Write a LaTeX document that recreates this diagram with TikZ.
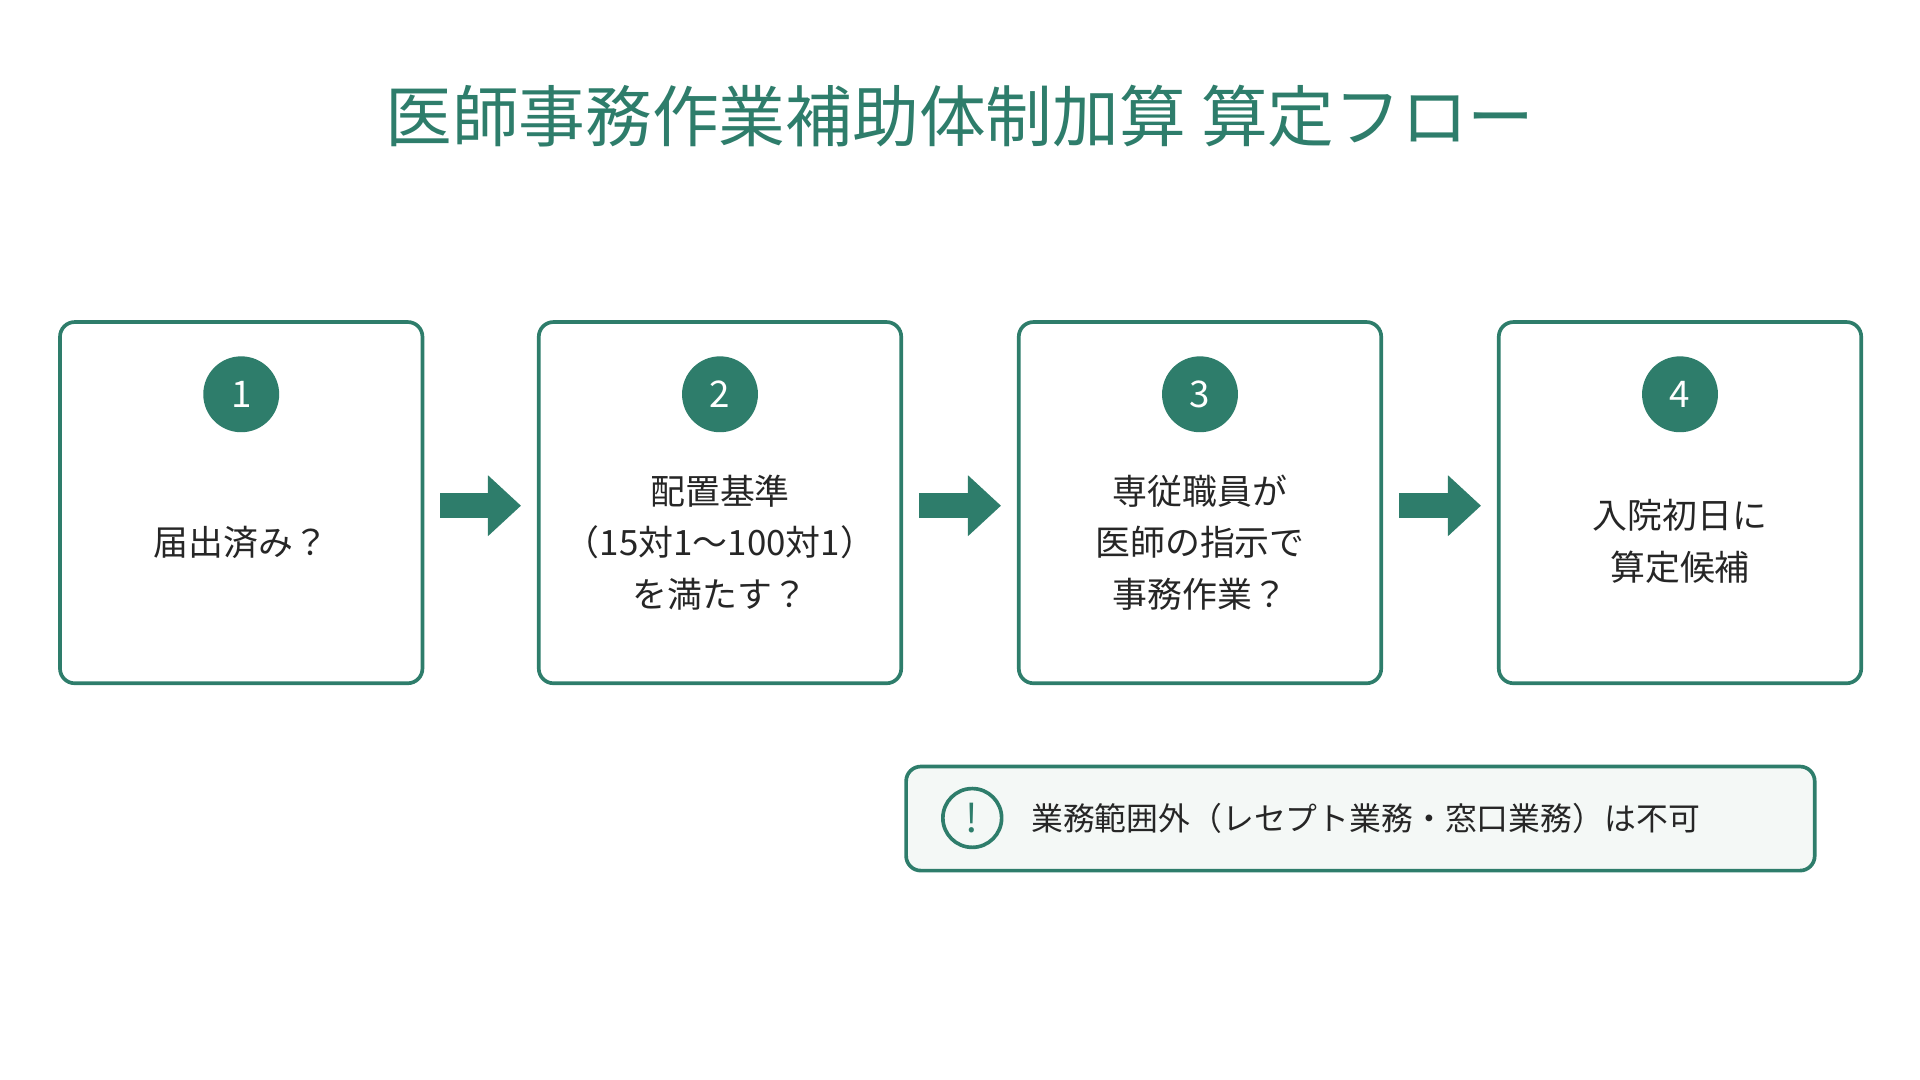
\documentclass[tikz,border=0pt]{standalone}
\usepackage{fontspec}
\setmainfont{Noto Sans CJK JP}
\usetikzlibrary{arrows.meta}
\definecolor{teal1}{HTML}{2E7D6B}
\definecolor{notebg}{HTML}{F4F8F6}
\begin{document}
\begin{tikzpicture}[x=1pt,y=-1pt,
  box/.style={draw=teal1,line width=3pt,rounded corners=12pt,minimum width=296pt,minimum height=295pt,fill=white},
  num/.style={circle,fill=teal1,minimum size=62pt,inner sep=0pt,text=white,font=\fontsize{30}{30}\selectfont},
  lbl/.style={align=center,font=\fontsize{28.5}{42}\selectfont,text=black!85},
  flow/.style={draw=teal1,line width=20pt,-{Triangle[width=48pt,length=27pt]},shorten <=13pt,shorten >=13pt}]
\useasboundingbox (0,0) rectangle (1568,882);
\node[text=teal1,font=\fontsize{54.5}{54}\selectfont] (title) at (784,95) {医師事務作業補助体制加算 算定フロー};
\foreach \i/\x in {1/197,2/588,3/980,4/1372}{
  \node[box] (b\i) at (\x,410.5) {};
  \node[num] (n\i) at (\x,322) {\i};
}
\node[lbl] (t1) at (197,443) {届出済み？};
\node[lbl] (t2) at (588,443) {配置基準\\（15対1～100対1）\\を満たす？};
\node[lbl] (t3) at (980,443) {専従職員が\\医師の指示で\\事務作業？};
\node[lbl] (t4) at (1372,442) {入院初日に\\算定候補};
\draw[flow] ([yshift=-2.5pt]b1.east) -- ([yshift=-2.5pt]b2.west);
\draw[flow] ([yshift=-2.5pt]b2.east) -- ([yshift=-2.5pt]b3.west);
\draw[flow] ([yshift=-2.5pt]b3.east) -- ([yshift=-2.5pt]b4.west);
\node[draw=teal1,line width=3pt,rounded corners=12pt,fill=notebg,minimum width=742pt,minimum height=85pt] (note) at (1111,668.5) {};
\node[circle,draw=teal1,line width=3pt,minimum size=48pt,inner sep=0pt,text=teal1,font=\fontsize{32}{32}\selectfont] (ex) at (794,668) {!};
\node[anchor=west,font=\fontsize{26}{26}\selectfont,text=black!85,inner sep=0pt] (nt) at (842,668) {業務範囲外（レセプト業務・窓口業務）は不可};
\end{tikzpicture}
\end{document}
